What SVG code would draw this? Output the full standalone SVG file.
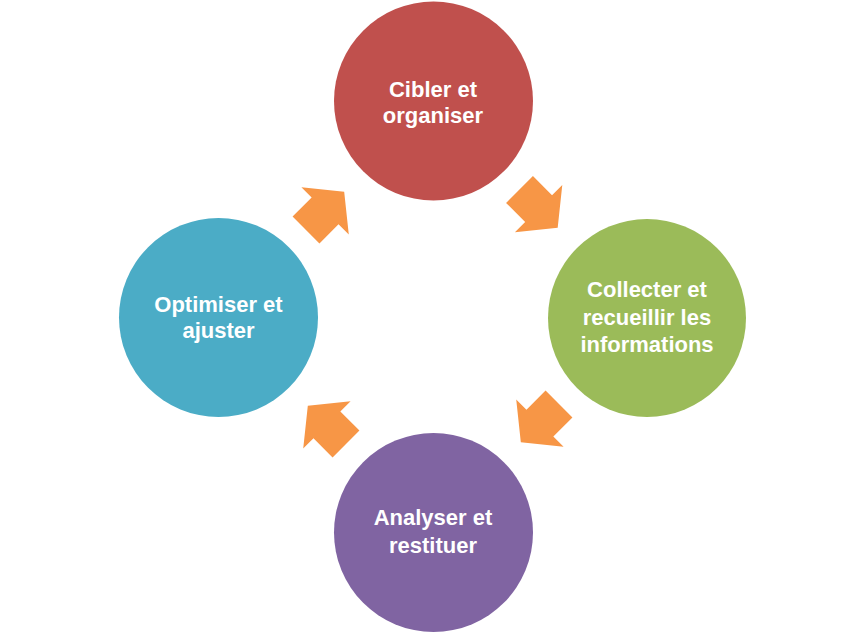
<svg xmlns="http://www.w3.org/2000/svg" xmlns:xlink="http://www.w3.org/1999/xlink" width="866" height="634" viewBox="0 0 866 634">
  <style>
    .lbl { font-family: "Liberation Sans", Arial, sans-serif; font-weight: bold; font-size: 22px; fill: #ffffff; text-anchor: middle; }
    .arrow { fill: #F79646; }
  </style>
  <defs>
    <polygon id="blockArrow" points="0,-19 27,-19 27,-33.5 54,0 27,33.5 27,19 0,19"/>
  </defs>
  <rect width="866" height="634" fill="#ffffff"/>

  <g id="connectors" class="arrow">
    <use xlink:href="#blockArrow" href="#blockArrow" transform="translate(519.5,189.5) rotate(45)"/>
    <use xlink:href="#blockArrow" href="#blockArrow" transform="translate(559,404) rotate(135)"/>
    <use xlink:href="#blockArrow" href="#blockArrow" transform="translate(346,444) rotate(225)"/>
    <use xlink:href="#blockArrow" href="#blockArrow" transform="translate(306,230) rotate(-45)"/>
  </g>

  <g id="node-cibler">
    <circle cx="433.5" cy="101" r="99.5" fill="#C0504D"/>
    <text class="lbl" x="433" y="97">Cibler et</text>
    <text class="lbl" x="433" y="123">organiser</text>
  </g>

  <g id="node-collecter">
    <circle cx="647" cy="318" r="99" fill="#9BBB59"/>
    <text class="lbl" x="647" y="297">Collecter et</text>
    <text class="lbl" x="647" y="325">recueillir les</text>
    <text class="lbl" x="647" y="352">informations</text>
  </g>

  <g id="node-analyser">
    <circle cx="433.5" cy="532.5" r="99.5" fill="#8064A2"/>
    <text class="lbl" x="433" y="525">Analyser et</text>
    <text class="lbl" x="433" y="553">restituer</text>
  </g>

  <g id="node-optimiser">
    <circle cx="218.5" cy="317.5" r="99.5" fill="#4BACC6"/>
    <text class="lbl" x="218.5" y="312">Optimiser et</text>
    <text class="lbl" x="218.5" y="338">ajuster</text>
  </g>
</svg>
